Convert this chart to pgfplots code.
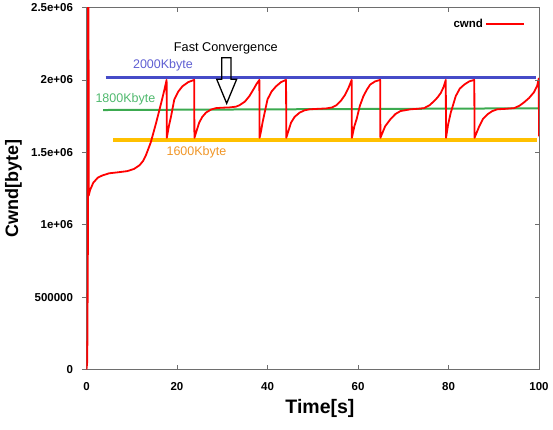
\documentclass[border=0pt]{standalone}
\usepackage{fontspec}
\setmainfont{Liberation Sans}
\usepackage{pgfplots}
\pgfplotsset{compat=1.18}
\definecolor{cwred}{RGB}{255,0,0}
\definecolor{blueline}{RGB}{70,75,200}
\definecolor{bluetext}{RGB}{95,95,210}
\definecolor{greenline}{RGB}{60,170,80}
\definecolor{greentext}{RGB}{80,185,110}
\definecolor{yellowline}{RGB}{255,192,0}
\definecolor{orangetext}{RGB}{240,150,40}
\definecolor{frame}{RGB}{110,110,110}
\begin{document}
\begin{tikzpicture}
\useasboundingbox (-86.5pt,-59.5pt) rectangle (466.5pt,369.5pt);
\begin{axis}[at={(0,0)}, anchor=south west, scale only axis,
  width=452.5pt, height=362pt,
  xmin=0, xmax=100, ymin=0, ymax=2500000,
  xtick={0,20,40,60,80,100}, xticklabels={0,20,40,60,80,100},
  ytick={0,500000,1000000,1500000,2000000,2500000},
  yticklabels={0,500000,1e+06,1.5e+06,2e+06,2.5e+06},
  scaled y ticks=false, scaled x ticks=false,
  xtick pos=both, xtick align=inside,
  ytick pos=left, ytick align=outside,
  major tick length=4.5pt,
  tick style={frame, line width=0.8pt},
  axis line style={frame, line width=0.8pt},
  tick label style={font=\fontsize{11.5}{12}\selectfont\bfseries},
  xticklabel style={anchor=center, yshift=-17.5pt},
  yticklabel style={anchor=east, inner sep=0pt, xshift=-8.8pt},
  xlabel={Time[s]}, ylabel={Cwnd[byte]},
  every axis x label/.style={at={([yshift=-38.8pt]axis description cs:0.516,0)}, anchor=center, font=\fontsize{19.5}{20}\selectfont\bfseries},
  every axis y label/.style={at={([xshift=-73pt]axis description cs:0,0.5)}, anchor=center, rotate=90, font=\fontsize{18}{19}\selectfont\bfseries},
  legend style={at={(axis description cs:0.969,0.955)}, anchor=east, draw=none, fill=none,
    font=\fontsize{11.5}{12}\selectfont\bfseries, inner sep=0pt},
  legend cell align=right, legend plot pos=right,
  legend image code/.code={\draw[#1] (0pt,0pt) -- (38pt,0pt);},
]
% reference lines
\addplot[blueline, line width=3.2pt, forget plot] coordinates {(4.24,2015000) (99.3,2015000)};
\addplot[greenline, line width=2pt, forget plot] coordinates {(3.65,1792000) (100,1804000)};
\addplot[yellowline, line width=4pt, forget plot] coordinates {(5.86,1585000) (99.5,1585000)};
% cwnd
\addplot[cwred, line width=1.8pt, line join=round] coordinates {
(0,0) (0.15,50000) (0.2,200000) (0.3,800000) (0.33,3000000) (0.45,3000000) (0.48,1200000)
(0.8,1240000) (1.5,1290000) (2.5,1325000) (3.5,1340000) (5,1355000) (7,1362000) (9,1370000)
(10.5,1385000) (11.7,1410000) (12.5,1440000) (13.1,1477000) (14.2,1568000) (15.4,1705000)
(16.5,1840000) (17.2,1930000) (17.7,2000000)
(17.75,1600000) (18.2,1680000) (18.7,1750000) (19.4,1865000) (20.3,1920000) (21.2,1956000) (22.5,1985000) (23.8,2000000)
(23.85,1600000) (24.9,1705000) (25.6,1745000) (26.4,1774000) (27.5,1795000) (28.6,1805000) (30,1808000)
(31.6,1810000) (33,1815000) (33.8,1825000) (35,1850000) (36,1888000) (37,1940000) (37.5,1968000) (38.2,2000000)
(38.25,1600000) (38.6,1650000) (38.9,1705000) (40.0,1865000) (40.9,1920000) (41.9,1956000) (43,1985000) (44.1,2000000)
(44.15,1600000) (45.2,1705000) (46,1745000) (47.1,1774000) (48.2,1790000) (49.3,1797000) (51,1800000)
(53,1803000) (54.3,1810000) (55.2,1825000) (56.2,1855000) (57.1,1895000) (57.9,1945000) (58.6,2000000)
(58.65,1600000) (59.2,1680000) (59.7,1730000) (60.4,1820000) (61.2,1888000) (62,1935000) (62.7,1968000) (63.8,1990000) (64.9,2000000)
(64.95,1600000) (66,1680000) (67.2,1730000) (68.3,1765000) (69.4,1785000) (71.6,1797000) (73,1800000)
(74.6,1805000) (75.8,1825000) (76.8,1853000) (77.6,1880000) (78.3,1910000) (78.9,1950000) (79.4,2000000)
(79.45,1600000) (79.9,1690000) (80.5,1774000) (81.6,1888000) (82.5,1940000) (83.5,1968000) (84.6,1990000) (85.7,2000000)
(85.75,1600000) (86.8,1680000) (87.6,1730000) (88.6,1762000) (89.7,1785000) (90.8,1797000) (92.5,1800000)
(94.5,1805000) (95.7,1822000) (96.7,1845000) (97.8,1875000) (98.9,1915000) (99.6,1960000) (99.95,2010000)
(100,1610000)
};
\addlegendentry{cwnd}
% annotations
\node[font=\fontsize{12.5}{14}\selectfont, text=bluetext] at (axis cs:16.9,2098000) {2000Kbyte};
\node[font=\fontsize{12.5}{14}\selectfont, text=greentext] at (axis cs:8.6,1866000) {1800Kbyte};
\node[font=\fontsize{12.5}{14}\selectfont, text=orangetext] at (axis cs:24.3,1497000) {1600Kbyte};
\node[font=\fontsize{12.7}{14}\selectfont, text=black] at (axis cs:30.8,2220000) {Fast Convergence};
\draw[black, line width=1.3pt, line join=miter]
  (axis cs:30.98,1838000) -- (axis cs:28.77,2005000) -- (axis cs:29.88,2005000)
  -- (axis cs:29.88,2153000) -- (axis cs:31.94,2153000) -- (axis cs:31.94,2005000)
  -- (axis cs:33.19,2005000) -- cycle;
\end{axis}
% right-side inward ticks
\begin{axis}[at={(0,0)}, anchor=south west, scale only axis,
  width=452.5pt, height=362pt,
  xmin=0, xmax=100, ymin=0, ymax=2500000,
  xtick=\empty, ytick={0,500000,1000000,1500000,2000000,2500000}, yticklabel=\empty,
  ytick pos=right, ytick align=inside, major tick length=4.5pt,
  tick style={frame, line width=0.8pt},
  axis line style={draw=none}]
\end{axis}
\end{tikzpicture}
\end{document}
